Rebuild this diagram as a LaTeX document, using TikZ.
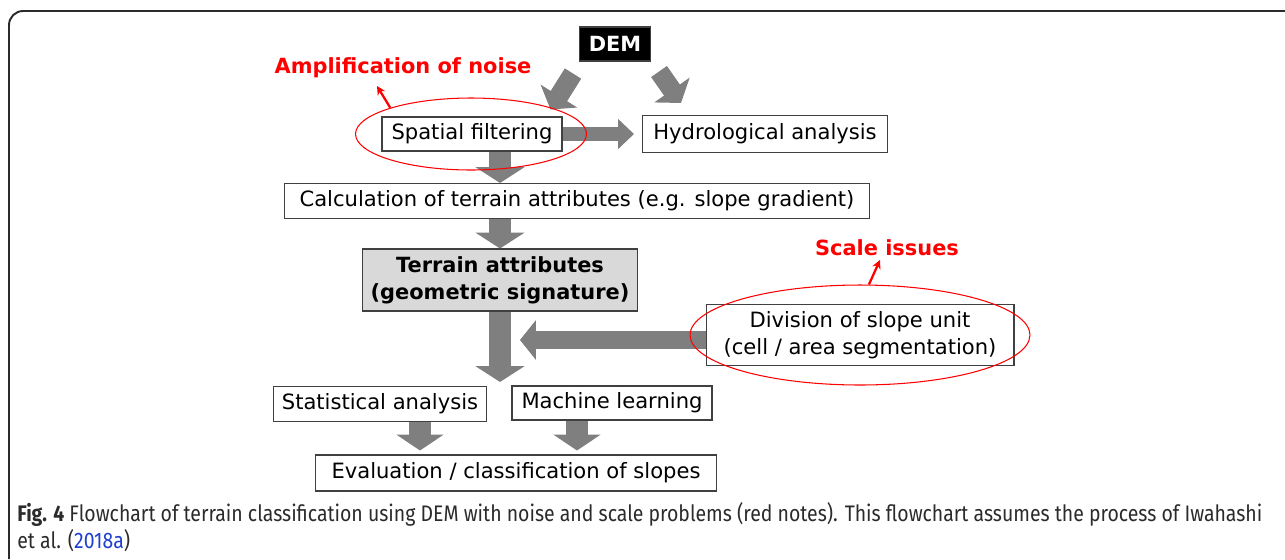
\documentclass[tikz,border=0pt]{standalone}
\usepackage{fontspec}
\setmainfont{DejaVu Sans}
\newfontfamily\capfont[FakeStretch=0.865]{Fira Sans}
\usetikzlibrary{arrows.meta, shapes.geometric, positioning, calc}
\definecolor{arrowgray}{HTML}{7F7F7F}
\definecolor{attrfill}{HTML}{D9D9D9}
\definecolor{notered}{HTML}{FF0000}
\definecolor{framegray}{HTML}{2B2B2B}
\definecolor{linkblue}{HTML}{1F3FD0}

\begin{document}
\begin{tikzpicture}[x=0.02cm, y=-0.02cm,
    box/.style={draw=black!75, line width=0.6pt, inner sep=0pt, align=center, font=\fontsize{12}{15.3}\selectfont},
    blockarr/.style={draw=arrowgray, line width=#1, -{Triangle[length=9pt, width=0pt 2.2]}},
    ring/.style={ellipse, draw=notered, line width=0.6pt, inner sep=0pt},
    note/.style={text=notered, font=\fontsize{11.9}{14}\selectfont\bfseries},
    notearr/.style={draw=notered, line width=1.3pt, -{Stealth[length=5pt, width=5pt]}}]
    \useasboundingbox (0,0) rectangle (1285,559);
    \draw[framegray, line width=1.1pt, rounded corners=8pt] (1285,11) -- (9,11) -- (9,559);

    \node[box, fill=black, text=white, font=\fontsize{11.9}{14}\selectfont\bfseries, minimum width=1.42cm, minimum height=0.68cm] (dem) at (615,44) {DEM};
    \node[box, minimum width=3.6cm, minimum height=0.68cm] (filt) at (472,134) {Spatial filtering};
    \node[box, minimum width=4.9cm, minimum height=0.74cm] (hydro) at (765,134) {Hydrological analysis};
    \node[box, minimum width=11.7cm, minimum height=0.7cm] (calc) at (577,201) {Calculation of terrain attributes (e.g. slope gradient)};
    \node[box, fill=attrfill, font=\fontsize{11.9}{15.3}\selectfont\bfseries, minimum width=5.5cm, minimum height=1.24cm] (attr) at (500,280) {Terrain attributes\\(geometric signature)};
    \node[box, minimum width=6.16cm, minimum height=1.22cm] (unit) at (860,335) {Division of slope unit\\(cell / area segmentation)};
    \node[box, minimum width=4.26cm, minimum height=0.7cm] (stat) at (380,404) {Statistical analysis};
    \node[box, minimum width=4cm, minimum height=0.68cm] (ml) at (612,403) {Machine learning};
    \node[box, minimum width=8.04cm, minimum height=0.72cm] (eval) at (516,473) {Evaluation / classification of slopes};

    \draw[blockarr=11pt] ([shift={(-42,12)}]dem.south) -- ([shift={(-12,-7)}]filt.north east);
    \draw[blockarr=11pt] ([shift={(44,10)}]dem.south) -- ([shift={(39,-12)}]hydro.north west);
    \draw[blockarr=7.5pt] (filt.east) -- ([shift={(-8,0)}]hydro.west);
    \draw[blockarr=12.5pt] (filt.south -| attr) -- (calc.north -| attr);
    \draw[blockarr=12.5pt] (calc.south -| attr) -- (attr.north);
    \draw[blockarr=12.5pt] (attr.south) -- ([shift={(0,-4)}]attr.south |- stat.north);
    \draw[blockarr=10pt] ([shift={(0,5)}]unit.west) -- ([shift={(20,5)}]attr.south |- unit.west);
    \foreach \n/\dx in {stat/40, ml/-35}
        \draw[blockarr=12pt] ([shift={(\dx,0)}]\n.south) -- ([shift={(\dx,-4)}]\n.south |- eval.north);

    \node[note] (noise) at (403,68) {Amplification of noise};
    \node[note] (scale) at (887,248) {Scale issues};
    \node[ring, minimum width=4.62cm, minimum height=1.44cm] (noisering) at (471,134) {};
    \node[ring, minimum width=6.8cm, minimum height=2cm] (scalering) at (860,335) {};
    \coordinate (noisetip) at (377,86);
    \coordinate (scaletip) at (880,260);
    \draw[notearr] (noisering.162) -- (noisetip);
    \draw[notearr] (scalering.80) -- (scaletip);

    \node[anchor=north west, align=left, inner sep=0pt, text=framegray, font=\capfont\fontsize{12.8}{15.2}\selectfont] (caption) at (17,502)
        {\textbf{Fig. 4} Flowchart of terrain classification using DEM with noise and scale problems (red notes). This flowchart assumes the process of Iwahashi\\et al. (\textcolor{linkblue}{2018a})};
\end{tikzpicture}
\end{document}
